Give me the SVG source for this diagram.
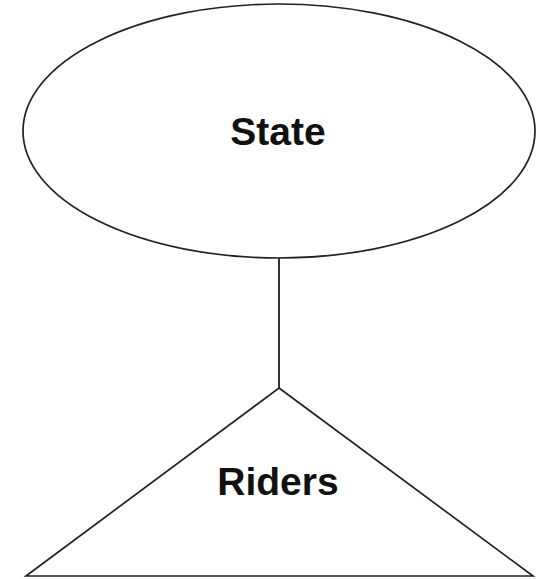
<svg xmlns="http://www.w3.org/2000/svg" width="543" height="579" viewBox="0 0 543 579">
  <style>
    .shape { fill: #ffffff; stroke: #222222; stroke-width: 1.7; }
    .edge { stroke: #111111; stroke-width: 1.7; fill: none; }
    .label { font-family: "Liberation Sans", Arial, sans-serif; font-weight: bold; font-size: 39px; fill: #111111; text-anchor: middle; }
  </style>
  <rect width="543" height="579" fill="#ffffff"/>
  <g id="connectors">
    <line class="edge" x1="279" y1="258" x2="279" y2="388"/>
  </g>
  <g id="state">
    <ellipse class="shape" cx="279" cy="131" rx="256" ry="127"/>
    <text class="label" x="278" y="145">State</text>
  </g>
  <g id="riders">
    <polygon class="shape" points="279,388 533,576 26,576"/>
    <text class="label" x="278" y="495">Riders</text>
  </g>
</svg>
